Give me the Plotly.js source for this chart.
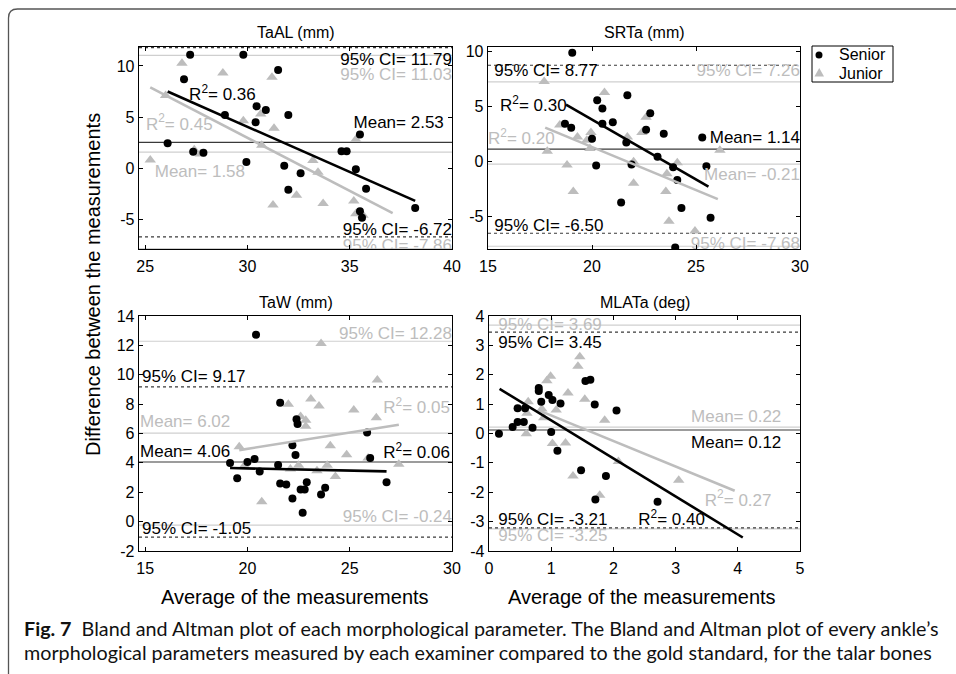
<!DOCTYPE html>
<html>
<head>
<meta charset="utf-8">
<script src="https://cdn.plot.ly/plotly-3.0.1.min.js"></script>
<style>
html,body{margin:0;padding:0;background:#fff;}
#chart{width:956px;height:674px;}
</style>
</head>
<body>
<div id="chart"></div>
<script>
// ---------------- DATA ----------------
const panelTitles = ["TaAL (mm)", "SRTa (mm)", "TaW (mm)", "MLATa (deg)"];
const seriesNames = ["Senior", "Junior"];

// TaAL
const taalSeniorX = [27.2, 29.8, 26.9, 31.5, 30.45, 30.9, 28.9, 32.0, 30.4, 26.1, 35.5, 27.35, 27.85, 34.6, 34.85, 29.95, 31.8, 32.6, 35.3, 32.0, 35.8, 35.5, 35.6, 38.2];
const taalSeniorY = [11.1, 11.1, 8.7, 9.6, 6.05, 5.7, 5.2, 5.2, 4.5, 2.45, 3.3, 1.6, 1.5, 1.65, 1.65, 0.6, 0.25, -0.5, -0.1, -2.1, -2.0, -4.2, -4.85, -3.9];
const taalJuniorX = [26.8, 28.8, 31.2, 26.0, 29.8, 30.65, 31.3, 35.3, 30.7, 27.7, 27.4, 25.25, 33.2, 33.45, 32.4, 31.25, 33.7, 35.2, 35.3, 35.65];
const taalJuniorY = [10.25, 9.3, 8.9, 7.1, 4.65, 5.3, 3.9, 2.8, 2.25, 1.4, 1.8, 0.8, 0.75, -0.4, -2.65, -3.6, -3.45, -3.2, -4.45, -4.6];
const taalFitSeniorX = [26.1, 38.2], taalFitSeniorY = [7.5, -3.2];
const taalFitJuniorX = [25.25, 37.1], taalFitJuniorY = [7.9, -4.4];

// SRTa
const srtaSeniorX = [19.05, 21.7, 20.25, 20.5, 22.8, 21.0, 18.7, 19.0, 20.5, 22.6, 23.45, 20.0, 25.3, 21.65, 23.15, 20.2, 21.9, 23.9, 25.5, 24.1, 21.4, 24.3, 25.7, 24.0];
const srtaSeniorY = [9.9, 6.05, 5.6, 4.85, 4.4, 3.6, 3.45, 3.1, 3.45, 2.9, 2.55, 2.1, 2.2, 1.75, 0.45, -0.35, -0.25, -0.5, -0.4, -1.65, -3.7, -4.2, -5.1, -7.8];
const srtaJuniorX = [17.7, 20.6, 18.45, 22.6, 22.4, 19.95, 19.3, 19.75, 19.9, 21.7, 17.85, 26.15, 18.8, 24.1, 22.0, 23.6, 19.1, 22.0, 23.55, 23.7, 24.95];
const srtaJuniorY = [7.3, 6.3, 3.35, 4.05, 2.65, 2.65, 2.25, 1.95, 1.2, 2.25, 0.95, 1.05, -0.3, -0.1, 0.0, -1.1, -2.7, -1.95, -2.7, -5.4, -6.3];
const srtaFitSeniorX = [18.75, 25.6], srtaFitSeniorY = [5.2, -2.25];
const srtaFitJuniorX = [17.75, 26.05], srtaFitJuniorY = [3.1, -3.4];

// TaW
const tawSeniorX = [20.42, 21.6, 22.4, 22.45, 25.85, 22.2, 22.35, 26.0, 19.15, 20.35, 20.0, 21.5, 20.6, 19.5, 22.9, 26.8, 21.6, 21.9, 23.8, 22.6, 22.8, 23.6, 22.2, 22.7];
const tawSeniorY = [12.73, 8.1, 6.97, 6.65, 6.07, 5.2, 4.53, 4.33, 3.99, 4.26, 4.06, 3.85, 3.42, 2.95, 2.68, 2.68, 2.6, 2.52, 2.3, 2.18, 2.18, 1.84, 1.57, 0.6];
const tawJuniorX = [23.6, 26.35, 23.1, 22.0, 23.5, 25.2, 22.6, 22.85, 22.85, 26.3, 19.6, 24.05, 24.85, 25.9, 27.4, 23.9, 22.5, 22.1, 23.4, 19.85, 24.3, 20.7];
const tawJuniorY = [12.12, 9.64, 8.35, 7.99, 7.88, 7.6, 7.15, 6.9, 6.5, 7.08, 5.1, 5.16, 4.55, 4.33, 3.9, 3.83, 3.83, 3.58, 3.47, 3.8, 3.08, 1.35];
const tawFitSeniorX = [19.15, 26.8], tawFitSeniorY = [3.65, 3.42];
const tawFitJuniorX = [19.6, 27.4], tawFitJuniorY = [4.87, 6.59];

// MLATa
const mlataSeniorX = [0.16, 0.38, 0.46, 0.46, 0.56, 0.58, 0.70, 0.80, 0.80, 0.84, 0.96, 1.02, 1.0, 1.15, 1.10, 1.48, 1.55, 1.63, 1.70, 1.88, 2.05, 1.71, 2.71];
const mlataSeniorY = [-0.01, 0.22, 0.39, 0.86, 0.39, 0.86, 0.2, 1.55, 1.45, 1.08, 1.31, 1.14, 0.05, 1.02, -0.59, -1.25, 1.79, 1.83, 0.99, -1.45, 0.78, -2.25, -2.32];
const mlataJuniorX = [1.46, 1.43, 0.99, 0.93, 1.27, 0.63, 1.54, 1.08, 0.85, 0.88, 0.60, 1.02, 1.23, 1.86, 2.08, 1.35, 1.78, 3.05, 0.61];
const mlataJuniorY = [2.61, 2.29, 1.95, 1.8, 1.38, 1.08, 1.17, 0.8, 0.83, 0.54, -0.01, -0.34, -0.32, 0.45, -0.95, -1.45, -2.1, -1.59, 0.69];
const mlataFitSeniorX = [0.17, 4.08], mlataFitSeniorY = [1.52, -3.54];
const mlataFitJuniorX = [0.82, 3.95], mlataFitJuniorY = [0.77, -1.95];

// Statistics per panel (TaAL, SRTa, TaW, MLATa)
const meanSenior = [2.53, 1.14, 4.06, 0.12];
const meanJunior = [1.58, -0.21, 6.02, 0.22];
const ciHighSenior = [11.79, 8.77, 9.17, 3.45];
const ciLowSenior = [-6.72, -6.50, -1.05, -3.21];
const ciHighJunior = [11.03, 7.26, 12.28, 3.69];
const ciLowJunior = [-7.86, -7.68, -0.24, -3.25];
const r2Senior = [0.36, 0.30, 0.06, 0.40];
const r2Junior = [0.45, 0.20, 0.05, 0.27];

const xAxisTitle = "Average of the measurements";
const yAxisTitle = "Difference between the measurements";
const captionBold = "Fig. 7";
const captionLine1 = "Bland and Altman plot of each morphological parameter. The Bland and Altman plot of every ankle\u2019s";
const captionLine2 = "morphological parameters measured by each examiner compared to the gold standard, for the talar bones";

// ---------------- LAYOUT HELPERS ----------------
const W = 956, H = 674;
const px = v => v / W;
const py = v => 1 - v / H;
const FONT = 'Liberation Sans, Arial, Helvetica, sans-serif';
const CAP_FONT = 'Lato, Open Sans, sans-serif';
const BLACK = '#000000';
const GREY = '#bdbdbd';
const LINE_DARK = '#3a3a3a';
const LINE_GREY = '#cfcfcf';
const LBL = 17;

const seniorX = [taalSeniorX, srtaSeniorX, tawSeniorX, mlataSeniorX];
const seniorY = [taalSeniorY, srtaSeniorY, tawSeniorY, mlataSeniorY];
const juniorX = [taalJuniorX, srtaJuniorX, tawJuniorX, mlataJuniorX];
const juniorY = [taalJuniorY, srtaJuniorY, tawJuniorY, mlataJuniorY];
const fitSX = [taalFitSeniorX, srtaFitSeniorX, tawFitSeniorX, mlataFitSeniorX];
const fitSY = [taalFitSeniorY, srtaFitSeniorY, tawFitSeniorY, mlataFitSeniorY];
const fitJX = [taalFitJuniorX, srtaFitJuniorX, tawFitJuniorX, mlataFitJuniorX];
const fitJY = [taalFitJuniorY, srtaFitJuniorY, tawFitJuniorY, mlataFitJuniorY];

// panel geometry (pixels)
const boxes = [
  {l:139, r:452, t:47, b:249, xr:[24.7, 40], yr:[-7.9, 11.85], xt:[25,30,35,40], yt:[-5,0,5,10]},
  {l:488, r:800, t:47, b:249, xr:[15, 30], yr:[-7.93, 10.43], xt:[15,20,25,30], yt:[-5,0,5,10]},
  {l:139, r:452, t:316, b:551, xr:[14.7, 30], yr:[-2, 14], xt:[15,20,25,30], yt:[-2,0,2,4,6,8,10,12,14]},
  {l:489, r:800, t:316, b:551, xr:[0, 5], yr:[-4, 4], xt:[0,1,2,3,4,5], yt:[-4,-3,-2,-1,0,1,2,3,4]}
];

// label placements in data units: [x, y, side] side 'L' = text starts at x, 'R' = text ends at x
const labelPos = [
  {ciHS:[40,10.47,'R'], ciHJ:[40,9.0,'R'], r2S:[27.15,7.04,'L'], r2J:[25.04,4.19,'L'], mS:[39.6,4.38,'R'], mJ:[25.47,-0.43,'L'], ciLS:[40,-6.13,'R'], ciLJ:[40,-7.7,'R']},
  {ciHS:[15.3,8.2,'L'], ciHJ:[30,8.2,'R'], r2S:[15.58,4.98,'L'], r2J:[15.0,1.98,'L'], mS:[30,2.07,'R'], mJ:[30,-1.3,'R'], ciLS:[15.3,-5.9,'L'], ciLJ:[30,-7.57,'R']},
  {ciHS:[14.85,9.78,'L'], ciHJ:[30,12.71,'R'], r2S:[29.9,4.6,'R'], r2J:[29.9,7.67,'R'], mS:[14.75,4.67,'L'], mJ:[14.75,6.72,'L'], ciLS:[14.85,-0.57,'L'], ciLJ:[30,0.25,'R']},
  {ciHS:[0.15,3.04,'L'], ciHJ:[0.15,3.67,'L'], r2S:[2.4,-2.96,'L'], r2J:[3.47,-2.31,'L'], mS:[4.7,-0.34,'R'], mJ:[4.7,0.55,'R'], ciLS:[0.15,-2.96,'L'], ciLJ:[0.15,-3.52,'L']}
];

const traces = [];
const shapes = [];
const annotations = [];
const layout = {
  width: W, height: H,
  margin: {l:0, r:0, t:0, b:0},
  paper_bgcolor: '#ffffff',
  plot_bgcolor: '#ffffff',
  font: {family: FONT, size: 16, color: BLACK},
  showlegend: false
};

boxes.forEach((b, i) => {
  const n = i === 0 ? '' : String(i + 1);
  const xa = 'x' + n, ya = 'y' + n;
  layout['xaxis' + n] = {
    domain: [px(b.l), px(b.r)], range: b.xr, anchor: ya,
    tickmode: 'array', tickvals: b.xt, ticktext: b.xt.map(String),
    ticks: 'inside', ticklen: 4, tickwidth: 1, tickcolor: '#000',
    showline: true, linecolor: '#000', linewidth: 1.3, mirror: 'ticks',
    showgrid: false, zeroline: false, fixedrange: true, ticklabelstandoff: 2,
    tickfont: {family: FONT, size: 16, color: BLACK}
  };
  layout['yaxis' + n] = {
    domain: [py(b.b), py(b.t)], range: b.yr, anchor: xa,
    tickmode: 'array', tickvals: b.yt, ticktext: b.yt.map(String),
    ticks: 'inside', ticklen: 4, tickwidth: 1, tickcolor: '#000',
    showline: true, linecolor: '#000', linewidth: 1.3, mirror: 'ticks',
    showgrid: false, zeroline: false, fixedrange: true, ticklabelstandoff: 0,
    tickfont: {family: FONT, size: 16, color: BLACK}
  };

  // horizontal reference lines (mean and 95% CI)
  const hline = (val, color, dash) => shapes.push({
    type: 'line', xref: xa + ' domain', yref: ya, x0: 0, x1: 1, y0: val, y1: val,
    line: {color: color, width: 1.2, dash: dash}, layer: 'below'
  });
  hline(ciHighJunior[i], LINE_GREY, 'solid');
  hline(ciLowJunior[i], LINE_GREY, 'solid');
  hline(meanJunior[i], LINE_GREY, 'solid');
  hline(ciHighSenior[i], LINE_DARK, 'dot');
  hline(ciLowSenior[i], LINE_DARK, 'dot');
  hline(meanSenior[i], LINE_DARK, 'solid');

  // markers
  traces.push({
    type: 'scatter', mode: 'markers', x: juniorX[i], y: juniorY[i], xaxis: xa, yaxis: ya,
    name: seriesNames[1], showlegend: false,
    marker: {symbol: 'triangle-up', size: 10, color: GREY, line: {width: 0}},
    hoverinfo: 'skip', cliponaxis: true
  });
  traces.push({
    type: 'scatter', mode: 'markers', x: seniorX[i], y: seniorY[i], xaxis: xa, yaxis: ya,
    name: seriesNames[0], showlegend: false,
    marker: {symbol: 'circle', size: 8, color: BLACK, line: {width: 0}},
    hoverinfo: 'skip', cliponaxis: true
  });
  // regression lines
  traces.push({
    type: 'scatter', mode: 'lines', x: fitJX[i], y: fitJY[i], xaxis: xa, yaxis: ya,
    showlegend: false, line: {color: GREY, width: 2.6}, hoverinfo: 'skip'
  });
  traces.push({
    type: 'scatter', mode: 'lines', x: fitSX[i], y: fitSY[i], xaxis: xa, yaxis: ya,
    showlegend: false, line: {color: BLACK, width: 2.6}, hoverinfo: 'skip'
  });

  // text labels (clipped to the axes box like the original)
  const L = labelPos[i];
  const addLabel = (spec, txt, color) => {
    traces.push({
      type: 'scatter', mode: 'text', x: [spec[0]], y: [spec[1]], xaxis: xa, yaxis: ya,
      text: [txt], textposition: spec[2] === 'L' ? 'middle right' : 'middle left',
      textfont: {family: FONT, size: LBL, color: color},
      showlegend: false, hoverinfo: 'skip', cliponaxis: true
    });
  };
  addLabel(L.ciHJ, '95% CI= ' + ciHighJunior[i].toFixed(2), GREY);
  addLabel(L.ciLJ, '95% CI= ' + ciLowJunior[i].toFixed(2), GREY);
  addLabel(L.mJ, 'Mean= ' + meanJunior[i].toFixed(2), GREY);
  addLabel(L.r2J, 'R<sup>2</sup>= ' + r2Junior[i].toFixed(2), GREY);
  addLabel(L.ciHS, '95% CI= ' + ciHighSenior[i].toFixed(2), BLACK);
  addLabel(L.ciLS, '95% CI= ' + ciLowSenior[i].toFixed(2), BLACK);
  addLabel(L.mS, 'Mean= ' + meanSenior[i].toFixed(2), BLACK);
  addLabel(L.r2S, 'R<sup>2</sup>= ' + r2Senior[i].toFixed(2), BLACK);

  // panel title
  annotations.push({
    xref: 'paper', yref: 'paper', x: px((b.l + b.r) / 2), y: py(b.t - 14),
    text: panelTitles[i], showarrow: false, xanchor: 'center', yanchor: 'middle',
    font: {family: FONT, size: 16, color: BLACK}
  });
});

// axis titles
annotations.push({
  xref: 'paper', yref: 'paper', x: px(93), y: py(285), textangle: -90,
  text: yAxisTitle, showarrow: false,
  xanchor: 'center', yanchor: 'middle', font: {family: FONT, size: 20, color: BLACK}
});
annotations.push({
  xref: 'paper', yref: 'paper', x: px(295), y: py(597),
  text: xAxisTitle, showarrow: false,
  xanchor: 'center', yanchor: 'middle', font: {family: FONT, size: 20, color: BLACK}
});
annotations.push({
  xref: 'paper', yref: 'paper', x: px(642), y: py(597),
  text: xAxisTitle, showarrow: false,
  xanchor: 'center', yanchor: 'middle', font: {family: FONT, size: 20, color: BLACK}
});

// legend (drawn as a boxed key)
shapes.push({type: 'rect', xref: 'paper', yref: 'paper', x0: px(812), x1: px(893), y0: py(82), y1: py(46),
  line: {color: '#000', width: 1}, fillcolor: '#ffffff', layer: 'above'});
shapes.push({type: 'circle', xref: 'paper', yref: 'paper', x0: px(815.5), x1: px(822.5), y0: py(58.5), y1: py(51.5),
  line: {color: BLACK, width: 0}, fillcolor: BLACK, layer: 'above'});
shapes.push({type: 'path', xref: 'paper', yref: 'paper', layer: 'above',
  path: 'M ' + px(814.5) + ',' + py(76.5) + ' L ' + px(824) + ',' + py(76.5) + ' L ' + px(819.25) + ',' + py(68) + ' Z',
  line: {width: 0}, fillcolor: GREY});
annotations.push({xref: 'paper', yref: 'paper', x: px(837), y: py(55), text: seriesNames[0], showarrow: false,
  xanchor: 'left', yanchor: 'middle', font: {family: FONT, size: 16, color: BLACK}});
annotations.push({xref: 'paper', yref: 'paper', x: px(837), y: py(73), text: seriesNames[1], showarrow: false,
  xanchor: 'left', yanchor: 'middle', font: {family: FONT, size: 16, color: BLACK}});

// caption
const capStart = annotations.length;
annotations.push({
  xref: 'paper', yref: 'paper', x: px(22), y: py(628),
  text: '<b>' + captionBold + '</b>  ' + captionLine1,
  showarrow: false, xanchor: 'left', yanchor: 'middle', align: 'left',
  font: {family: CAP_FONT, size: 20, color: '#111'}
});
annotations.push({
  xref: 'paper', yref: 'paper', x: px(22), y: py(652),
  text: captionLine2,
  showarrow: false, xanchor: 'left', yanchor: 'middle', align: 'left',
  font: {family: CAP_FONT, size: 20, color: '#111'}
});

// rounded frame (top and left edges)
const r = 9;
shapes.push({
  type: 'path', xref: 'paper', yref: 'paper', layer: 'above',
  path: 'M ' + px(8.5) + ',' + py(690) + ' L ' + px(8.5) + ',' + py(9 + r) +
        ' Q ' + px(8.5) + ',' + py(9) + ' ' + px(8.5 + r) + ',' + py(9) +
        ' L ' + px(970) + ',' + py(9),
  line: {color: '#555', width: 1.3}
});

layout.shapes = shapes;
layout.annotations = annotations;

Plotly.newPlot('chart', traces, layout, {staticPlot: true, displayModeBar: false}).then(gd => {
  // fit the caption's second line to the width it has in the figure (22 -> 930 px)
  const el = gd.querySelector('.annotation[data-index="' + (capStart + 1) + '"] .annotation-text');
  if (el) {
    const w = el.getBBox().width;
    if (w > 0) {
      const size = 20 * 908 / w;
      const upd = {};
      upd['annotations[' + capStart + '].font.size'] = size;
      upd['annotations[' + (capStart + 1) + '].font.size'] = size;
      Plotly.relayout(gd, upd);
    }
  }
});
</script>
</body>
</html>
